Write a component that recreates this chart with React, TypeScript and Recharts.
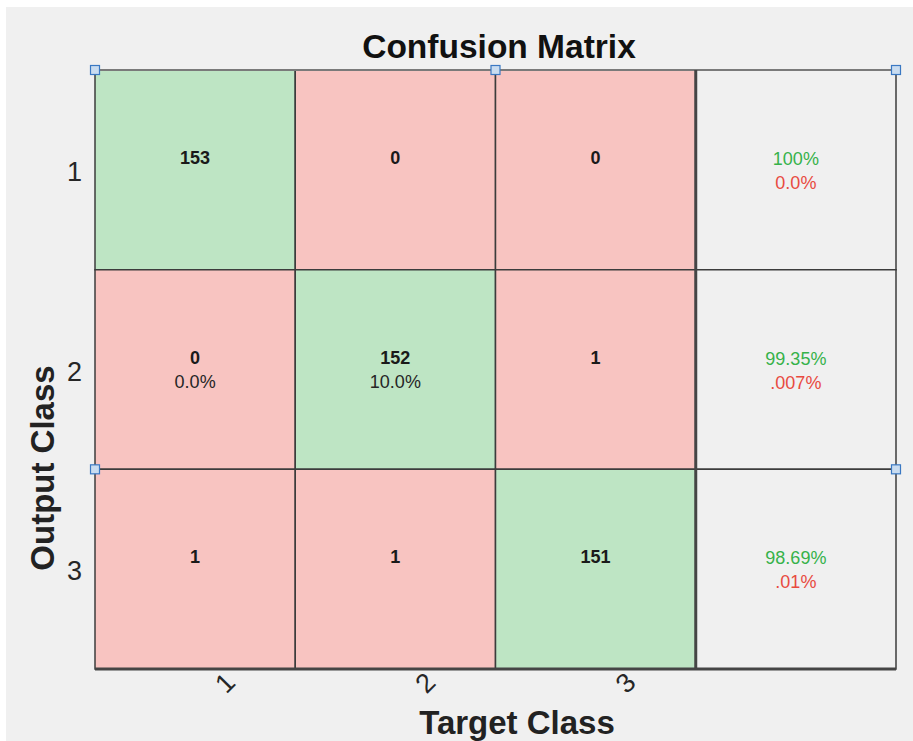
import React from 'react';
import { ScatterChart, Scatter, XAxis, YAxis, ReferenceArea, ReferenceLine, Label } from 'recharts';

// rows = output class, columns = target class
const classLabels = ['1', '2', '3'];
const confusion = [
  [153, 0, 0],
  [0, 152, 1],
  [1, 1, 151],
];
const cellPercent = [
  ['', '', ''],
  ['0.0%', '10.0%', ''],
  ['', '', ''],
];
const rowCorrect = ['100%', '99.35%', '98.69%'];
const rowError = ['0.0%', '.007%', '.01%'];
// selection handles (axis units)
const handleX = [0, 2, 4, 0, 4];
const handleY = [0, 0, 0, 2, 2];

const FONT = '"Liberation Sans", Arial, Helvetica, sans-serif';
const GREEN_CELL = '#bee5c4';
const RED_CELL = '#f8c4c1';
const BG = '#f0f0f0';
const LINE = '#3c3c3c';

const cells = confusion.flatMap((row, r) =>
  row.map((count, c) => ({
    x: c + 0.5,
    y: r + 0.5,
    row: r,
    col: c,
    count,
    pct: cellPercent[r][c],
    diag: r === c,
  }))
);

const summary = rowCorrect.map((v, r) => ({ x: classLabels.length + 0.5, y: r + 0.5, row: r, correct: v, error: rowError[r] }));

const handles = handleX.map((x, i) => ({ x, y: handleY[i] }));

const CellText = (props: any) => {
  const { cx, cy, payload } = props;
  return (
    <g>
      <text x={cx} y={cy - 12} textAnchor="middle" dominantBaseline="central" fontFamily={FONT} fontSize={18} fontWeight="bold" fill="#1a1a1a">
        {payload.count}
      </text>
      {payload.pct ? (
        <text x={cx} y={cy + 12} textAnchor="middle" dominantBaseline="central" fontFamily={FONT} fontSize={18} fill="#262626">
          {payload.pct}
        </text>
      ) : null}
    </g>
  );
};

const SummaryText = (props: any) => {
  const { cx, cy, payload } = props;
  return (
    <g>
      <text x={cx} y={cy - 11} textAnchor="middle" dominantBaseline="central" fontFamily={FONT} fontSize={18} fill="#36b24a">
        {payload.correct}
      </text>
      <text x={cx} y={cy + 13} textAnchor="middle" dominantBaseline="central" fontFamily={FONT} fontSize={18} fill="#e84a3f">
        {payload.error}
      </text>
    </g>
  );
};

const Handle = (props: any) => {
  const { cx, cy } = props;
  return <rect x={cx - 4.5} y={cy - 4.5} width={9} height={9} fill="#c9dcf0" stroke="#3a78c3" strokeWidth={1.2} />;
};

const YTick = (props: any) => {
  const { x, y, payload } = props;
  return (
    <text x={x - 13} y={y + 2} textAnchor="end" dominantBaseline="central" fontFamily={FONT} fontSize={27} fill="#262626">
      {classLabels[Math.floor(payload.value)]}
    </text>
  );
};

const XTick = (props: any) => {
  const { x, y, payload } = props;
  const tx = x + 30;
  const ty = y + 14;
  return (
    <text x={tx} y={ty} textAnchor="middle" dominantBaseline="central" fontFamily={FONT} fontSize={27} fill="#262626" transform={`rotate(-45, ${tx}, ${ty})`}>
      {classLabels[Math.floor(payload.value)]}
    </text>
  );
};

const TargetLabel = (props: any) => {
  const vb = props.viewBox;
  return (
    <text x={vb.x + vb.width / 2 + 21.5} y={vb.y + 65} textAnchor="middle" fontFamily={FONT} fontSize={33} fontWeight="bold" fill="#222">
      Target Class
    </text>
  );
};

const OutputLabel = (props: any) => {
  const vb = props.viewBox;
  const tx = vb.x + 19;
  const ty = vb.y + vb.height / 2 + 98.5;
  return (
    <text x={tx} y={ty} textAnchor="middle" fontFamily={FONT} fontSize={33} fontWeight="bold" fill="#222" transform={`rotate(-90, ${tx}, ${ty})`}>
      Output Class
    </text>
  );
};

const tickValues = classLabels.map((_, i) => i + 0.5);

export default function App() {
  return (
    <div style={{ position: 'absolute', left: 0, top: 0, width: 913, height: 741, background: '#ffffff', overflow: 'hidden' }}>
      <div style={{ position: 'absolute', left: 6, top: 7, width: 907, height: 734, background: BG }}>
        <svg width={907} height={60} style={{ position: 'absolute', left: 0, top: 0 }}>
          <text x={493} y={51} textAnchor="middle" fontFamily={FONT} fontSize={33.5} fontWeight="bold" fill="#111">
            Confusion Matrix
          </text>
        </svg>
        <div style={{ position: 'absolute', left: 0, top: 0 }}>
          <ScatterChart width={907} height={734} margin={{ top: 63, right: 17, bottom: 32, left: 29 }}>
            <XAxis
              type="number"
              dataKey="x"
              domain={[0, 4]}
              ticks={tickValues}
              tick={<XTick />}
              axisLine={false}
              tickLine={false}
              tickSize={0}
              tickMargin={0}
              height={40}
            >
              <Label content={<TargetLabel />} />
            </XAxis>
            <YAxis
              type="number"
              dataKey="y"
              domain={[0, 3]}
              reversed
              ticks={tickValues}
              tick={<YTick />}
              axisLine={false}
              tickLine={false}
              tickSize={0}
              tickMargin={0}
              width={60}
            >
              <Label content={<OutputLabel />} />
            </YAxis>
            {cells.map((c) => (
              <ReferenceArea
                key={`cell-${c.row}-${c.col}`}
                x1={c.col}
                x2={c.col + 1}
                y1={c.row}
                y2={c.row + 1}
                fill={c.diag ? GREEN_CELL : RED_CELL}
                fillOpacity={1}
                stroke={LINE}
                strokeWidth={1.5}
                ifOverflow="visible"
              />
            ))}
            {summary.map((s) => (
              <ReferenceArea
                key={`sum-${s.row}`}
                x1={classLabels.length}
                x2={classLabels.length + 1}
                y1={s.row}
                y2={s.row + 1}
                fill={BG}
                fillOpacity={1}
                stroke={LINE}
                strokeWidth={1.5}
                ifOverflow="visible"
              />
            ))}
            <ReferenceLine y={0} stroke="#7a7a7a" strokeWidth={2} ifOverflow="visible" />
            <ReferenceLine y={3} stroke="#454545" strokeWidth={3} ifOverflow="visible" />
            <ReferenceLine x={3} stroke="#454545" strokeWidth={3} ifOverflow="visible" />
            <Scatter data={cells} shape={<CellText />} isAnimationActive={false} />
            <Scatter data={summary} shape={<SummaryText />} isAnimationActive={false} />
            <Scatter data={handles} shape={<Handle />} isAnimationActive={false} />
          </ScatterChart>
        </div>
      </div>
    </div>
  );
}
